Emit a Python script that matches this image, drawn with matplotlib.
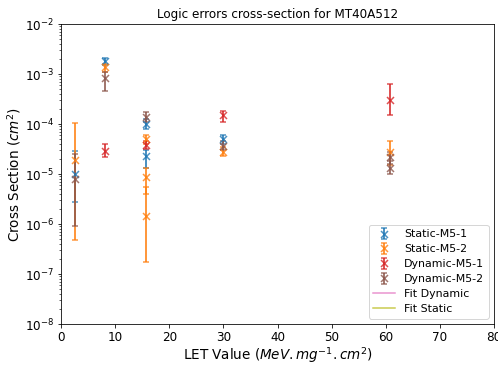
import matplotlib
matplotlib.use("Agg")
import matplotlib.pyplot as plt
import numpy as np

# ---- data ----
s1_let  = [2.6, 8.1, 15.7, 15.7, 30.0]
s1_val  = [1.0e-5, 1.8e-3, 1.0e-4, 2.3e-5, 5.0e-5]
s1_low  = [2.8e-6, 1.5e-3, 8.0e-5, 1.3e-5, 4.0e-5]
s1_high = [2.9e-5, 2.1e-3, 1.25e-4, 3.0e-5, 6.0e-5]

s2_let  = [2.6, 8.1, 15.7, 15.7, 15.7, 30.0, 60.8]
s2_val  = [1.9e-5, 1.35e-3, 5.0e-5, 8.6e-6, 1.45e-6, 2.8e-5, 2.8e-5]
s2_low  = [4.7e-7, 1.1e-3, 4.0e-5, 4.0e-6, 1.7e-7, 2.3e-5, 1.5e-5]
s2_high = [1.05e-4, 1.6e-3, 6.0e-5, 1.3e-5, 5.5e-6, 3.4e-5, 4.6e-5]

d1_let  = [8.1, 15.7, 30.0, 60.8]
d1_val  = [2.9e-5, 3.8e-5, 1.5e-4, 3.0e-4]
d1_low  = [2.2e-5, 3.2e-5, 1.1e-4, 1.5e-4]
d1_high = [3.9e-5, 4.5e-5, 1.8e-4, 6.3e-4]

d2_let  = [2.6, 8.1, 15.7, 30.0, 60.8, 60.8]
d2_val  = [8.0e-6, 8.5e-4, 1.4e-4, 3.7e-5, 2.2e-5, 1.3e-5]
d2_low  = [9.0e-7, 4.6e-4, 1.1e-4, 3.0e-5, 1.6e-5, 1.0e-5]
d2_high = [2.5e-5, 1.1e-3, 1.7e-4, 4.5e-5, 2.8e-5, 1.8e-5]

fit_dyn_x, fit_dyn_y = [], []
fit_sta_x, fit_sta_y = [], []

series = [
    ("Static-M5-1", s1_let, s1_val, s1_low, s1_high, "tab:blue"),
    ("Static-M5-2", s2_let, s2_val, s2_low, s2_high, "tab:orange"),
    ("Dynamic-M5-1", d1_let, d1_val, d1_low, d1_high, "tab:red"),
    ("Dynamic-M5-2", d2_let, d2_val, d2_low, d2_high, "tab:brown"),
]

fig = plt.figure(figsize=(498 / 72, 365 / 72), dpi=72)
ax = fig.add_axes([61 / 498, 1 - 324 / 365, (494 - 61) / 498, (324 - 24) / 365])

handles = []
for name, x, v, lo, hi, c in series:
    v = np.array(v); lo = np.array(lo); hi = np.array(hi)
    h = ax.errorbar(x, v, yerr=[v - lo, hi - v], fmt="x", color=c, capsize=3,
                    markersize=7, markeredgewidth=1.5, elinewidth=2,
                    label=name, alpha=0.8)
    handles.append(h)

h1, = ax.plot(fit_dyn_x, fit_dyn_y, color="tab:pink", label="Fit Dynamic", alpha=0.8)
h2, = ax.plot(fit_sta_x, fit_sta_y, color="tab:olive", label="Fit Static", alpha=0.8)
handles += [h1, h2]

ax.set_yscale("log")
ax.set_ylim(1e-8, 1e-2)
ax.set_xlim(0, 80)
ax.tick_params(labelsize=12)
ax.set_title("Logic errors cross-section for MT40A512", fontsize=12)
ax.set_xlabel(r"LET Value ($MeV.mg^{-1}.cm^2$)", fontsize=13.5, labelpad=1)
ax.set_ylabel(r"Cross Section ($cm^2$)", fontsize=13.5, labelpad=2)
ax.legend(handles=handles, labels=[h.get_label() for h in handles],
          loc="lower right", fontsize=11, labelspacing=0.45)

fig.savefig("out.png", dpi=72)
